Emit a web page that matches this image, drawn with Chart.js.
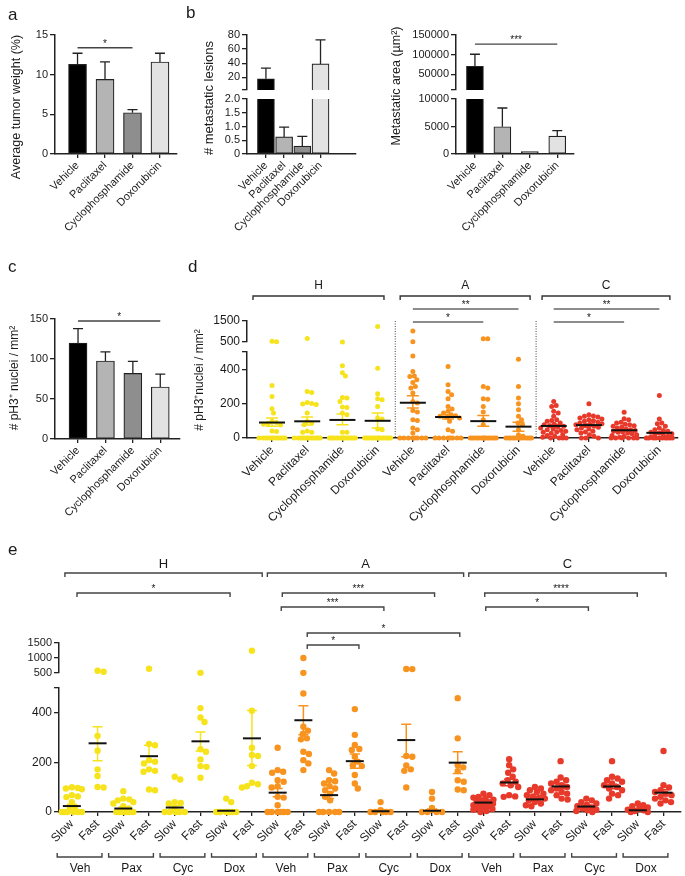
<!DOCTYPE html>
<html>
<head>
<meta charset="utf-8">
<script src="https://cdn.jsdelivr.net/npm/chart.js@4.4.1/dist/chart.umd.min.js"></script>
<style>
  html, body { margin: 0; padding: 0; background: #fff; }
  body { position: relative; width: 685px; height: 876px; overflow: hidden; }
</style>
</head>
<body>
<script>
// ---------- data ----------
const drugs = ['Vehicle', 'Paclitaxel', 'Cyclophosphamide', 'Doxorubicin'];
const barColors = ['#000000', '#b4b4b4', '#8e8e8e', '#e2e2e2'];

// a
const tumorWeight = [11.3, 9.4, 5.2, 11.6];
const tumorWeightErr = [12.7, 11.6, 5.6, 12.7];
// b
const lesions = [18, 0.62, 0.29, 39];
const lesionsErr = [33, 0.98, 0.64, 73];
const metArea = [70500, 4960, 420, 3270];
const metAreaErr = [101000, 8360, null, 4240];
// c
const ph3 = [120, 97.5, 82, 65];
const ph3Err = [138, 109, 97, 81];

// d
const groups = ['H', 'A', 'C'];
const groupColors = ['#f6e31c', '#f7931e', '#e83a2b'];
const dLabels = [...drugs, ...drugs, ...drugs];
const dH_veh = [540, 510, 305, 242, 170, 145, 97, 90, 85, 80, 75, 40, 38, 0, 0, 0, 0, 0, 0, 0, 0, 0, 0, 0, 0];
const dH_pac = [670, 270, 265, 207, 200, 198, 195, 145, 97, 87, 77, 40, 33, 33, 0, 0, 0, 0, 0, 0, 0, 0, 0, 0, 0, 0];
const dH_cyc = [505, 420, 380, 360, 235, 232, 212, 180, 178, 145, 135, 33, 33, 0, 0, 0, 0, 0, 0, 0, 0, 0, 0, 0, 0, 0, 0];
const dH_dox = [1240, 405, 257, 228, 222, 183, 116, 110, 52, 48, 0, 0, 0, 0, 0, 0, 0, 0, 0, 0, 0, 0, 0, 0];
const dA_veh = [1020, 515, 477, 386, 361, 357, 338, 323, 300, 290, 261, 212, 203, 160, 151, 106, 102, 58, 48, 29, 0, 0, 0, 0, 0, 0, 0, 0];
const dA_pac = [415, 309, 270, 251, 228, 183, 168, 155, 145, 135, 130, 126, 120, 116, 97, 48, 39, 0, 0, 0, 0, 0, 0, 0, 0];
const dA_cyc = [655, 650, 300, 290, 228, 226, 183, 151, 106, 77, 0, 0, 0, 0, 0, 0, 0, 0, 0, 0, 0, 0, 0, 0];
const dA_dox = [458, 300, 232, 199, 164, 126, 106, 87, 77, 48, 19, 10, 0, 0, 0, 0, 0, 0, 0, 0, 0, 0, 0, 0];
const dC_veh = [212, 189, 183, 155, 145, 126, 106, 102, 97, 87, 80, 77, 71, 68, 62, 58, 52, 48, 44, 39, 35, 33, 28, 19, 15, 10, 5, 0, 0, 0, 0];
const dC_pac = [199, 135, 128, 126, 122, 116, 110, 106, 100, 97, 92, 87, 83, 80, 77, 71, 68, 62, 58, 52, 48, 39, 35, 29, 19, 10, 0, 0, 0];
const dC_cyc = [149, 112, 106, 92, 87, 80, 77, 71, 68, 62, 58, 52, 48, 44, 39, 35, 33, 29, 25, 19, 14, 10, 5, 0, 0, 0, 0, 0, 0];
const dC_dox = [247, 110, 87, 83, 68, 58, 48, 44, 39, 33, 29, 24, 19, 14, 10, 5, 0, 0, 0, 0, 0, 0, 0, 0, 0, 0];
const dCols = [dH_veh, dH_pac, dH_cyc, dH_dox, dA_veh, dA_pac, dA_cyc, dA_dox, dC_veh, dC_pac, dC_cyc, dC_dox];
const dMean = [90, 97, 105, 100, 205, 122, 98, 66, 70, 75, 45, 30];
const dHi = [116, 122, 139, 145, 245, 135, 131, 91, 78, 82, 50, 35];
const dLo = [68, 75, 77, 58, 174, 110, 68, 39, 62, 68, 40, 25];

// e
const speeds = ['Slow', 'Fast'];
const treatShort = ['Veh', 'Pax', 'Cyc', 'Dox'];
const eH_vehSlow = [100, 97, 95, 92, 68, 63, 60, 40, 20, 8, 0, 0, 0, 0, 0, 0];
const eH_vehFast = [577, 543, 307, 247, 172, 145, 101, 99];
const eH_paxSlow = [84, 54, 51, 47, 40, 34, 23, 14, 0, 0, 0, 0, 0, 0];
const eH_paxFast = [643, 274, 269, 209, 203, 196, 172, 166, 162, 91, 88];
const eH_cycSlow = [142, 131, 40, 36, 34, 14, 0, 0, 0, 0, 0];
const eH_cycFast = [505, 419, 381, 363, 253, 243, 212, 185, 182, 138];
const eH_doxSlow = [54, 40, 0, 0, 0, 0, 0, 0];
const eH_doxFast = [1245, 408, 259, 230, 226, 185, 118, 112, 104, 99];
const eA_vehSlow = [259, 169, 162, 158, 128, 122, 104, 99, 61, 58, 27, 0, 0, 0, 0, 0, 0];
const eA_vehFast = [1000, 505, 478, 344, 328, 315, 297, 293, 243, 234, 209, 196, 169];
const eA_paxSlow = [169, 155, 128, 124, 115, 104, 95, 88, 74, 61, 47, 0, 0, 0, 0, 0];
const eA_paxFast = [415, 311, 270, 254, 250, 223, 203, 189, 185, 149, 115, 95];
const eA_cycSlow = [40, 7, 0, 0, 0, 0, 0];
const eA_cycFast = [635, 630, 226, 223, 188, 172, 166, 99];
const eA_doxSlow = [81, 54, 16, 0, 0, 0, 0];
const eA_doxFast = [459, 297, 189, 180, 165, 128, 122, 91, 88];
const eC_vehSlow = [74, 68, 61, 58, 54, 50, 47, 44, 40, 36, 33, 31, 27, 23, 19, 16, 12, 9, 4, 0];
const eC_vehFast = [213, 189, 172, 158, 142, 128, 122, 115, 108, 101, 68, 63, 61];
const eC_paxSlow = [101, 95, 88, 81, 74, 68, 63, 58, 54, 47, 40, 34, 27, 23];
const eC_paxFast = [205, 139, 128, 122, 115, 108, 101, 95, 88, 81, 74, 68, 54, 50];
const eC_cycSlow = [54, 47, 40, 34, 29, 23, 18, 14, 9, 7, 4, 0];
const eC_cycFast = [205, 142, 135, 128, 122, 115, 108, 101, 95, 88, 74, 68, 54];
const eC_doxSlow = [34, 27, 23, 18, 14, 9, 7, 4, 0, 0];
const eC_doxFast = [246, 108, 99, 88, 81, 74, 68, 61, 54, 47, 40, 34];
const eCols = [eH_vehSlow, eH_vehFast, eH_paxSlow, eH_paxFast, eH_cycSlow, eH_cycFast, eH_doxSlow, eH_doxFast,
  eA_vehSlow, eA_vehFast, eA_paxSlow, eA_paxFast, eA_cycSlow, eA_cycFast, eA_doxSlow, eA_doxFast,
  eC_vehSlow, eC_vehFast, eC_paxSlow, eC_paxFast, eC_cycSlow, eC_cycFast, eC_doxSlow, eC_doxFast];
const eMean = [24, 277, 14, 225, 18, 285, 5, 297, 78, 370, 68, 205, 3, 290, 5, 199, 38, 119, 51, 103, 22, 103, 7, 78];
const eHi = [31, 344, 20, 269, 26, 323, 9, 409, 95, 428, 81, 234, 7, 354, 12, 243, 44, 132, 58, 112, 27, 112, 10, 90];
const eLo = [17, 207, 8, 203, 10, 246, 1, 188, 61, 311, 54, 176, 0, 223, 0, 155, 32, 106, 44, 94, 17, 94, 4, 66];
const eLabels = eCols.map((_, i) => speeds[i % 2]);

// ---------- helpers ----------
const FONT = '"Liberation Sans", Arial, Helvetica, sans-serif';
const INK = '#222';
const TXT = '#1a1a1a';
Chart.defaults.font.family = FONT;
Chart.defaults.color = TXT;

function mk(box, area, cfg, plugins) {
  const c = document.createElement('canvas');
  c.width = box.w; c.height = box.h;
  c.style.cssText = `position:absolute;left:${box.l}px;top:${box.t}px;width:${box.w}px;height:${box.h}px`;
  document.body.appendChild(c);
  const sx = cfg.scales.x, sy = cfg.scales.y;
  const xShow = sx.display !== false;
  const zero = s => { s.paddingLeft = s.paddingRight = s.paddingTop = s.paddingBottom = 0; };
  if (xShow) sx.afterFit = s => { s.height = box.t + box.h - area.y1; zero(s); };
  sy.afterFit = s => { s.width = area.x0 - box.l; zero(s); };
  return new Chart(c, {
    type: cfg.type,
    data: { datasets: cfg.datasets },
    options: {
      responsive: false, animation: false, devicePixelRatio: 1, events: [],
      layout: { padding: { left: 0, top: area.y0 - box.t, right: box.l + box.w - area.x1, bottom: xShow ? 0 : box.t + box.h - area.y1 } },
      plugins: { legend: { display: false }, tooltip: { enabled: false } },
      scales: cfg.scales
    },
    plugins: plugins || []
  });
}

function xAxis(min, max, labels, fs) {
  return {
    type: 'linear', min, max, offset: false,
    afterBuildTicks: s => { s.ticks = labels.map((_, i) => ({ value: i })); },
    ticks: { autoSkip: false, minRotation: 45, maxRotation: 45, padding: 1, color: TXT, font: { size: fs },
      callback: v => labels[Math.round(v)] },
    grid: { offset: false, drawOnChartArea: false, drawTicks: true, tickLength: 4, color: INK, lineWidth: 1.3 },
    border: { display: true, color: INK, width: 1.5 }
  };
}
function xHidden(min, max) { return { type: 'linear', min, max, offset: false, display: false }; }
function yAxis(min, max, vals, blank, fs, fmt) {
  return {
    type: 'linear', min, max,
    afterBuildTicks: s => { s.ticks = vals.map(v => ({ value: v })); },
    ticks: { autoSkip: false, padding: 2, color: TXT, font: { size: fs },
      callback: v => blank.includes(v) ? '' : (fmt ? fmt(v) : String(v)) },
    grid: { drawOnChartArea: false, drawTicks: true, tickLength: 5, color: INK, lineWidth: 1.3 },
    border: { display: true, color: INK, width: 1.5 }
  };
}
function bars(vals, w, skip) {
  return { type: 'bar', data: vals.map((v, i) => ({ x: i, y: v })), backgroundColor: barColors,
    borderColor: INK, borderWidth: 1.2, borderSkipped: skip, barThickness: w, clip: 0 };
}
function errBars(vals, errs, cap) {
  return { id: 'errBars', afterDatasetsDraw(c) {
    const { ctx, scales: { x, y }, chartArea: ar } = c;
    ctx.save(); ctx.strokeStyle = INK; ctx.lineWidth = 1.3;
    vals.forEach((v, i) => {
      if (errs[i] == null) return;
      const px = x.getPixelForValue(i);
      const y0 = Math.min(y.getPixelForValue(v), ar.bottom), y1 = y.getPixelForValue(errs[i]);
      ctx.beginPath(); ctx.moveTo(px, y0); ctx.lineTo(px, y1);
      ctx.moveTo(px - cap / 2, y1); ctx.lineTo(px + cap / 2, y1); ctx.stroke();
    });
    ctx.restore();
  } };
}
function text(ctx, s, x, y, size, opt) {
  opt = opt || {};
  ctx.save(); ctx.translate(x, y); if (opt.rot) ctx.rotate(opt.rot);
  ctx.font = `${size}px ${FONT}`; ctx.fillStyle = TXT;
  ctx.textAlign = opt.align || 'center'; ctx.textBaseline = opt.base || 'middle';
  ctx.fillText(s, 0, 0); ctx.restore();
}
function vtitle(ctx, s, x, y, size) { text(ctx, s, x, y, size, { rot: -Math.PI / 2 }); }
function sig(ctx, x0, x1, y, label, tick, color) {
  ctx.save(); ctx.strokeStyle = color || '#444'; ctx.lineWidth = 1.4;
  ctx.beginPath(); ctx.moveTo(x0, y + tick); ctx.lineTo(x0, y); ctx.lineTo(x1, y); ctx.lineTo(x1, y + tick); ctx.stroke();
  ctx.restore();
  if (label) text(ctx, label, (x0 + x1) / 2, y - 1, 10, { base: 'alphabetic' });
}
function meanBars(means, hi, lo, colorOf, halfW, cap) {
  return { id: 'meanBars', afterDatasetsDraw(c) {
    const { ctx, scales: { x, y } } = c;
    ctx.save();
    means.forEach((m, i) => {
      const px = x.getPixelForValue(i);
      const yh = y.getPixelForValue(hi[i]), yl = y.getPixelForValue(lo[i]);
      ctx.strokeStyle = colorOf(i); ctx.lineWidth = 1.5;
      ctx.beginPath(); ctx.moveTo(px, yh); ctx.lineTo(px, yl);
      ctx.moveTo(px - cap / 2, yh); ctx.lineTo(px + cap / 2, yh);
      ctx.moveTo(px - cap / 2, yl); ctx.lineTo(px + cap / 2, yl); ctx.stroke();
      const ym = y.getPixelForValue(m);
      ctx.strokeStyle = '#111'; ctx.lineWidth = 2;
      ctx.beginPath(); ctx.moveTo(px - halfW, ym); ctx.lineTo(px + halfW, ym); ctx.stroke();
    });
    ctx.restore();
  } };
}
function points(col, i, split, upper, color, r) {
  const vals = col.filter(v => upper ? v > split : v <= split);
  return { type: 'scatter', data: vals.map(v => ({ x: i, y: v })), backgroundColor: color,
    borderWidth: 0, pointRadius: r, clip: false };
}
// deterministic beeswarm layout (pixel offsets) from the pixel heights of the points
function swarm(pys, r, maxHalf) {
  const order = pys.map((_, i) => i).sort((a, b) => pys[a] - pys[b]);
  const placed = [], out = [];
  const dmin = 2 * r * 0.9;
  for (const i of order) {
    let best = 0, bestD = -1;
    for (let k = 0; k <= maxHalf * 4; k++) {
      const off = (k % 2 ? 1 : -1) * Math.ceil(k / 2) * 0.5;
      let d = Infinity;
      for (const p of placed) d = Math.min(d, Math.hypot(p.x - off, p.y - pys[i]));
      if (d >= dmin) { best = off; break; }
      if (d > bestD) { bestD = d; best = off; }
    }
    placed.push({ x: best, y: pys[i] }); out[i] = best;
  }
  return out;
}
function applySwarm(up, upBox, low, lowBox, cols, split, r, maxHalf) {
  const xs = low.scales.x;
  const unit = xs.getPixelForValue(1) - xs.getPixelForValue(0);
  cols.forEach((col, i) => {
    const pageY = v => v > split ? upBox.t + up.scales.y.getPixelForValue(v) : lowBox.t + low.scales.y.getPixelForValue(v);
    const offs = swarm(col.map(pageY), r, maxHalf);
    const u = [], l = [];
    col.forEach((v, j) => (v > split ? u : l).push({ x: i + offs[j] / unit, y: v }));
    up.data.datasets[i].data = u; low.data.datasets[i].data = l;
  });
  up.update('none'); low.update('none');
}

// ---------- panel a ----------
const A = { box: { l: 0, t: 0, w: 185, h: 250 }, area: { x0: 55, y0: 35, x1: 177, y1: 154 } };
mk(A.box, A.area, {
  type: 'bar', datasets: [bars(tumorWeight, 18, false)],
  scales: { x: xAxis(-0.82, 3.62, drugs, 11), y: yAxis(0, 15, [0, 5, 10, 15], [], 11) }
}, [errBars(tumorWeight, tumorWeightErr, 10), { id: 'annA', afterDraw(c) {
  const { ctx, scales: { x, y } } = c;
  text(ctx, 'a', 8, 15, 17, { align: 'left' });
  sig(ctx, x.getPixelForValue(0), x.getPixelForValue(2), y.getPixelForValue(13.4), '*', 0);
  vtitle(ctx, 'Average tumor weight (%)', 17, 107, 12.5);
} }]);

// ---------- panel b (lesions, broken axis) ----------
const BL_up = { box: { l: 180, t: 0, w: 185, h: 100 }, area: { x0: 247, y0: 35, x1: 356, y1: 90 } };
const BL_lo = { box: { l: 180, t: 0, w: 185, h: 250 }, area: { x0: 247, y0: 99, x1: 356, y1: 154 } };
mk(BL_up.box, BL_up.area, {
  type: 'bar', datasets: [bars(lesions, 17, 'start')],
  scales: { x: xHidden(-1.04, 4.95), y: yAxis(2, 80, [2, 20, 40, 60, 80], [2], 11) }
}, [errBars(lesions, lesionsErr.map((e, i) => lesions[i] > 2 ? e : null), 10)]);
mk(BL_lo.box, BL_lo.area, {
  type: 'bar', datasets: [bars(lesions, 17, false)],
  scales: { x: xAxis(-1.04, 4.95, drugs, 11), y: yAxis(0, 2, [0, 0.5, 1, 1.5, 2], [], 11, v => v === 0 ? '0' : v.toFixed(1)) }
}, [errBars(lesions, lesionsErr.map((e, i) => lesions[i] > 2 ? null : e), 10), { id: 'annBL', afterDraw(c) {
  const ctx = c.ctx;
  text(ctx, 'b', 186 - BL_lo.box.l, 13, 17, { align: 'left' });
  vtitle(ctx, '# metastatic lesions', 209 - BL_lo.box.l, 98, 13);
} }]);

// ---------- panel b (area, broken axis) ----------
const BR_up = { box: { l: 365, t: 0, w: 220, h: 100 }, area: { x0: 456, y0: 35, x1: 574, y1: 90 } };
const BR_lo = { box: { l: 365, t: 0, w: 220, h: 250 }, area: { x0: 456, y0: 99, x1: 574, y1: 154 } };
mk(BR_up.box, BR_up.area, {
  type: 'bar', datasets: [bars(metArea, 17, 'start')],
  scales: { x: xHidden(-0.69, 3.61), y: yAxis(10000, 150000, [10000, 50000, 100000, 150000], [10000], 11) }
}, [errBars(metArea, metAreaErr.map((e, i) => metArea[i] > 10000 ? e : null), 10), { id: 'annBR', afterDraw(c) {
  const { ctx, scales: { x, y } } = c;
  sig(ctx, x.getPixelForValue(0), x.getPixelForValue(3), y.getPixelForValue(126900), '***', 0);
} }]);
mk(BR_lo.box, BR_lo.area, {
  type: 'bar', datasets: [bars(metArea, 17, false)],
  scales: { x: xAxis(-0.69, 3.61, drugs, 11), y: yAxis(0, 10000, [0, 5000, 10000], [], 11) }
}, [errBars(metArea, metAreaErr.map((e, i) => metArea[i] > 10000 ? null : e), 10), { id: 'annBR2', afterDraw(c) {
  vtitle(c.ctx, 'Metastatic area (µm²)', 397 - BR_lo.box.l, 86, 12.5);
} }]);

// ---------- panel c ----------
const C = { box: { l: 0, t: 255, w: 185, h: 270 }, area: { x0: 55, y0: 319, x1: 180, y1: 439 } };
mk(C.box, C.area, {
  type: 'bar', datasets: [bars(ph3, 18, false)],
  scales: { x: xAxis(-0.84, 3.72, drugs, 11), y: yAxis(0, 150, [0, 50, 100, 150], [], 11) }
}, [errBars(ph3, ph3Err, 10), { id: 'annC', afterDraw(c) {
  const { ctx, scales: { x, y } } = c;
  text(ctx, 'c', 8, 267 - C.box.t, 17, { align: 'left' });
  sig(ctx, x.getPixelForValue(0), x.getPixelForValue(3), y.getPixelForValue(147.5), '*', 0);
  vtitle(ctx, '# pH3⁺ nuclei / mm²', 15, 378 - C.box.t, 12);
} }]);

// ---------- panel d ----------
const D_up = { box: { l: 185, t: 255, w: 500, h: 190 }, area: { x0: 247, y0: 321, x1: 678, y1: 342 } };
const D_lo = { box: { l: 185, t: 300, w: 500, h: 235 }, area: { x0: 247, y0: 352, x1: 678, y1: 438 } };
const dColor = i => groupColors[Math.floor(i / 4)];
const dSpans = [[-0.54, 3.18], [3.64, 7.33], [7.67, 11.3]];
const dSig = [[4, 7, -12, '**'], [4, 6, 1, '*'], [8, 11, -12, '**'], [8, 10, 1, '*']];
const dUp = mk(D_up.box, D_up.area, {
  type: 'scatter', datasets: dCols.map((col, i) => points(col, i, 500, true, dColor(i), 2.5)),
  scales: { x: xHidden(-0.71, 11.53), y: yAxis(500, 1500, [500, 1500], [], 12) }
}, [{ id: 'annD', afterDraw(c) {
  const { ctx, scales: { x }, chartArea: ar } = c;
  text(ctx, 'd', 188 - D_up.box.l, 267 - D_up.box.t, 17, { align: 'left' });
  dSpans.forEach((s, g) => {
    const x0 = x.getPixelForValue(s[0]), x1 = x.getPixelForValue(s[1]), yy = ar.top - 25;
    sig(ctx, x0, x1, yy, '', 4, '#333');
    text(ctx, groups[g], (x0 + x1) / 2, yy - 10, 12);
  });
  dSig.forEach(s => sig(ctx, x.getPixelForValue(s[0]), x.getPixelForValue(s[1]), ar.top + s[2], s[3], 0, '#666'));
  ctx.save(); ctx.strokeStyle = '#444'; ctx.lineWidth = 1; ctx.setLineDash([1, 1.5]);
  [3.5, 7.5].forEach(v => {
    const px = x.getPixelForValue(v);
    ctx.beginPath(); ctx.moveTo(px, ar.top); ctx.lineTo(px, ar.top + (D_lo.area.y1 - D_up.area.y0)); ctx.stroke();
  });
  ctx.restore();
  vtitle(ctx, '# pH3⁺nuclei / mm²', 200 - D_up.box.l, 380 - D_up.box.t, 12);
} }]);
const dLow = mk(D_lo.box, D_lo.area, {
  type: 'scatter', datasets: dCols.map((col, i) => points(col, i, 500, false, dColor(i), 2.5)),
  scales: { x: xAxis(-0.71, 11.53, dLabels, 12), y: yAxis(0, 500, [0, 200, 400, 500], [500], 12) }
}, [meanBars(dMean, dHi, dLo, dColor, 13, 12)]);
applySwarm(dUp, D_up.box, dLow, D_lo.box, dCols, 500, 2.5, 13);

// ---------- panel e ----------
const E_up = { box: { l: 0, t: 540, w: 685, h: 140 }, area: { x0: 59, y0: 643, x1: 683, y1: 673 } };
const E_lo = { box: { l: 0, t: 600, w: 685, h: 276 }, area: { x0: 59, y0: 688, x1: 683, y1: 812 } };
const eColor = i => groupColors[Math.floor(i / 8)];
const eSpans = [[-0.27, 7.4], [7.6, 15.23], [15.43, 23.1]];
const eSig = [[0.2, 6.15, -50, '*'], [8.18, 14.1, -50, '***'], [8.14, 12.13, -36, '***'], [9.15, 15.08, -10, '*'],
  [9.15, 11.16, 2, '*'], [16.05, 21.98, -50, '****'], [16.09, 20.08, -36, '*']];
const eUp = mk(E_up.box, E_up.area, {
  type: 'scatter', datasets: eCols.map((col, i) => points(col, i, 500, true, eColor(i), 3.2)),
  scales: { x: xHidden(-0.5, 23.68), y: yAxis(500, 1500, [500, 1000, 1500], [], 11) }
}, [{ id: 'annE', afterDraw(c) {
  const { ctx, scales: { x }, chartArea: ar } = c;
  text(ctx, 'e', 8, 550 - E_up.box.t, 17, { align: 'left' });
  eSpans.forEach((s, g) => {
    const x0 = x.getPixelForValue(s[0]), x1 = x.getPixelForValue(s[1]), yy = ar.top - 70;
    sig(ctx, x0, x1, yy, '', 4, '#444');
    text(ctx, groups[g], (x0 + x1) / 2, yy - 9, 13);
  });
  eSig.forEach(s => sig(ctx, x.getPixelForValue(s[0]), x.getPixelForValue(s[1]), ar.top + s[2], s[3], 4, '#444'));
  vtitle(ctx, '# pH3⁺ nuclei / mm²', 13, 745 - E_up.box.t, 12);
} }]);
const eLow = mk(E_lo.box, E_lo.area, {
  type: 'scatter', datasets: eCols.map((col, i) => points(col, i, 500, false, eColor(i), 3.2)),
  scales: { x: xAxis(-0.5, 23.68, eLabels, 12), y: yAxis(0, 500, [0, 200, 400, 500], [500], 12) }
}, [meanBars(eMean, eHi, eLo, eColor, 9, 10), { id: 'annE2', afterDraw(c) {
  const { ctx, scales: { x }, chartArea: ar } = c;
  for (let k = 0; k < 12; k++) {
    const x0 = x.getPixelForValue(2 * k - 0.57), x1 = x.getPixelForValue(2 * k + 1.17), yy = ar.bottom + 45;
    sig(ctx, x0, x1, yy, '', -4, '#444');
    text(ctx, treatShort[k % 4], x.getPixelForValue(2 * k + 0.32), yy + 12, 12);
  }
} }]);
applySwarm(eUp, E_up.box, eLow, E_lo.box, eCols, 500, 3.2, 10);
</script>
</body>
</html>
